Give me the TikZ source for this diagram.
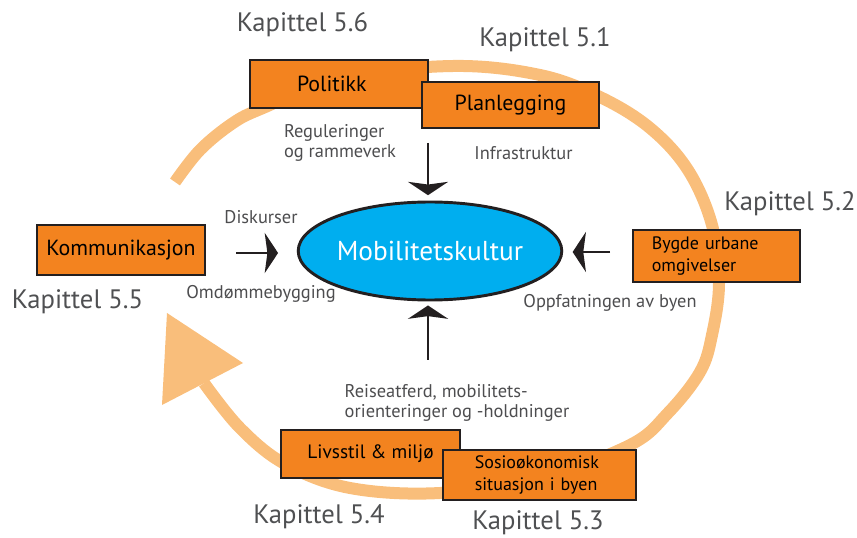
\documentclass[tikz,border=0pt]{standalone}
\usepackage{fontspec}
\setmainfont{PT Sans}
\usetikzlibrary{shapes.geometric, arrows.meta}

\definecolor{boxorange}{HTML}{F3831F}
\definecolor{ringorange}{HTML}{F9BE7B}
\definecolor{cultureblue}{HTML}{00AEEF}
\definecolor{edgeblack}{HTML}{231F20}
\definecolor{labelgray}{HTML}{4D4D4F}
\definecolor{kapgray}{HTML}{4F5052}

\begin{document}
\begin{tikzpicture}[x=0.75pt, y=-0.75pt,
        theme/.style={draw=edgeblack, rectangle, fill=boxorange, line width=2.2pt, inner sep=0pt, font=\fontsize{16.4}{19}\selectfont},
        twoline/.style={theme, text width=97pt, align=left, font=\fontsize{13.5}{16.5}\selectfont},
        factor/.style={text=labelgray, inner sep=0pt, align=left, font=\fontsize{13.8}{15}\selectfont},
        kapittel/.style={text=kapgray, inner sep=0pt, font=\fontsize{20}{23}\selectfont},
        arrow/.style={-{Stealth[length=10pt, width=30pt, inset=2pt]}, line width=2.2pt, draw=edgeblack},
        ring/.style={line width=9pt, draw=ringorange}
    ]
        \useasboundingbox (0,0) rectangle (857,538);

        % Ring
        \draw[ring] plot[smooth, tension=0.6] coordinates {(175,182) (200,150) (233,123) (263,108) (340,78) (453,66) (540,75) (600,97) (650,128) (688,170) (712,225) (719,283) (712,335) (700,372) (668,413) (630,445) (540,478) (440,493) (350,488) (285,464) (240,428) (204,383)};
        \fill[ringorange] (167,313) -- (162,405) -- (243,363) -- cycle;

        % Centre
        \node[ellipse, draw=edgeblack, line width=2.2pt, fill=cultureblue, minimum width=177pt, minimum height=73.5pt, inner sep=0pt, text=white, font=\fontsize{20.5}{24}\selectfont] (mob) at (430,251) {Mobilitetskultur};

        % Zones
        \node[theme, minimum width=133.5pt, minimum height=36pt, text width=63pt, align=left] (politikk) at (339,84) {Politikk};
        \node[theme, minimum width=132.75pt, minimum height=34.5pt] (plan) at (510.5,105) {Planlegging};
        \node[theme, minimum width=126pt, minimum height=37.5pt] (komm) at (121,250) {Kommunikasjon};
        \node[twoline, minimum width=125.25pt, minimum height=39pt] (bygde) at (716.5,256) {Bygde urbane\\omgivelser};
        \node[theme, minimum width=134.25pt, minimum height=36pt, font=\fontsize{14.5}{17}\selectfont] (livsstil) at (370.5,454) {Livsstil \& miljø};
        \node[twoline, minimum width=144.75pt, minimum height=37.5pt] (sosio) at (539.5,475) {Sosioøkonomisk\\situasjon i byen};

        % Chapters
        \node[kapittel] (k56) at (302.5,25) {Kapittel 5.6};
        \node[kapittel] (k51) at (545,40) {Kapittel 5.1};
        \node[kapittel] (k52) at (790,204) {Kapittel 5.2};
        \node[kapittel] (k55) at (77.5,302) {Kapittel 5.5};
        \node[kapittel] (k54) at (319,517) {Kapittel 5.4};
        \node[kapittel] (k53) at (538,523) {Kapittel 5.3};

        % Labels
        \node[factor] (regul) at (340,143) {Reguleringer\\og rammeverk};
        \node[factor] (infra) at (523.5,153) {Infrastruktur};
        \node[factor] (disk) at (261,217) {Diskurser};
        \node[factor] (omd) at (261,294) {Omdømmebygging};
        \node[factor] (oppf) at (610,303) {Oppfatningen av byen};
        \node[factor] (reise) at (457,403) {Reiseatferd, mobilitets-\\orienteringer og -holdninger};

        % Arrows
        \coordinate (topstart) at (428,143);
        \coordinate (leftstart) at (236,253);
        \coordinate (rightstart) at (610,252);
        \coordinate (botstart) at (428,360);
        \draw[arrow, shorten >=4pt] (topstart) -- (topstart |- mob.north);
        \draw[arrow, shorten >=14pt] (leftstart) -- (leftstart -| mob.west);
        \draw[arrow, shorten >=7pt] (rightstart) -- (rightstart -| mob.east);
        \draw[arrow, shorten >=3pt] (botstart) -- (botstart |- mob.south);
    \end{tikzpicture}
\end{document}
